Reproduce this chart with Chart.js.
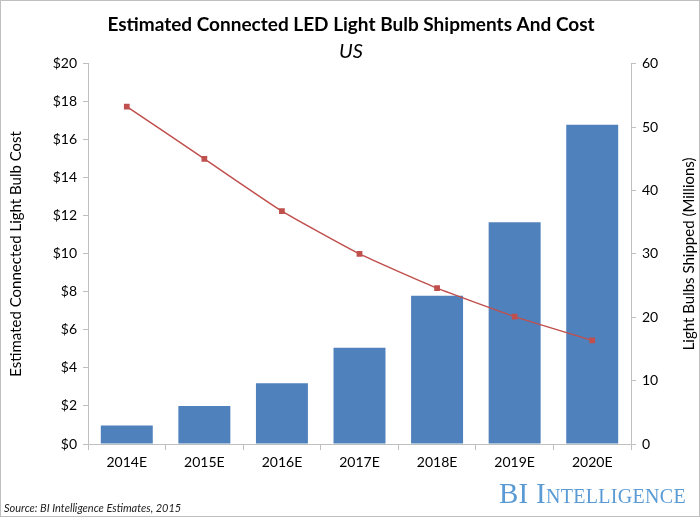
<!DOCTYPE html>
<html>
<head>
<meta charset="utf-8">
<script src="https://cdn.jsdelivr.net/npm/chart.js@4"></script>
<style>
  body { margin: 0; background: #fff; }
  .wrap { position: relative; width: 700px; height: 517px; box-sizing: border-box; border: 1px solid #bfbfbf; }
  canvas { position: absolute; left: 0; top: 0; }
  .source { position: absolute; left: 3px; top: 500px; font: italic 11px Lato, sans-serif; color: #222; }
  .logo { position: absolute; right: 13px; top: 476px; font: 29px "Liberation Serif", serif; color: #5a9bd5; font-variant: small-caps; letter-spacing: 0.3px; }
</style>
</head>
<body>
<div class="wrap">
  <canvas id="myChart" width="700" height="517"></canvas>
  <div class="source">Source: BI Intelligence Estimates, 2015</div>
  <div class="logo">BI Intelligence</div>
</div>
<script>
// data
const years = ['2014E', '2015E', '2016E', '2017E', '2018E', '2019E', '2020E'];
const shipments = [2.9, 6.0, 9.6, 15.2, 23.4, 35.0, 50.4]; // millions, right axis
const cost = [17.75, 15.0, 12.25, 10.0, 8.2, 6.7, 5.45];   // dollars, left axis

const font = 'Lato, sans-serif';
const axisGray = '#bfbfbf';
const rightTitle = 'Light Bulbs Shipped (Millions)';

// right axis title reads bottom-to-top in the original, Chart.js turns it the other way
const rightTitlePlugin = {
  id: 'rightTitle',
  afterDraw(chart) {
    const c = chart.ctx;
    const area = chart.chartArea;
    c.save();
    c.translate(688, (area.top + area.bottom) / 2);
    c.rotate(-Math.PI / 2);
    c.font = '15px ' + font;
    c.fillStyle = '#000';
    c.textAlign = 'center';
    c.textBaseline = 'middle';
    c.fillText(rightTitle, 0, 0);
    c.restore();
  }
};

const ctx = document.getElementById('myChart');

new Chart(ctx, {
  data: {
    labels: years,
    datasets: [{
      type: 'line',
      label: 'Cost',
      data: cost,
      yAxisID: 'y',
      borderColor: '#c0504d',
      backgroundColor: '#c0504d',
      borderWidth: 1.5,
      pointStyle: 'rect',
      pointRadius: 3,
      tension: 0.15,
      order: 0
    }, {
      type: 'bar',
      label: 'Shipments',
      data: shipments,
      yAxisID: 'y2',
      backgroundColor: '#4f81bd',
      categoryPercentage: 1,
      barPercentage: 0.67,
      order: 1
    }]
  },
  options: {
    responsive: false,
    animation: false,
    layout: { padding: { top: 0, left: 0, right: 0, bottom: 44 } },
    plugins: {
      legend: { display: false },
      tooltip: { enabled: false },
      title: {
        display: true,
        text: 'Estimated Connected LED Light Bulb Shipments And Cost',
        color: '#000',
        font: { family: font, size: 19, weight: 'bold' },
        padding: { top: 12, bottom: 4 }
      },
      subtitle: {
        display: true,
        text: 'US',
        color: '#000',
        font: { family: font, size: 20, style: 'italic' },
        padding: { top: 0, bottom: 0 }
      }
    },
    scales: {
      x: {
        grid: { display: true, drawOnChartArea: false, offset: true, color: axisGray, tickLength: 6 },
        border: { color: axisGray },
        ticks: { color: '#000', font: { family: font, size: 14 }, padding: 4 },
        afterFit: s => { s.height = 30; }
      },
      y: {
        position: 'left',
        min: 0, max: 20,
        ticks: { stepSize: 2, color: '#000', font: { family: font, size: 14 }, padding: 6, callback: v => '$' + v },
        grid: { drawOnChartArea: false, color: axisGray, tickLength: 5 },
        border: { color: axisGray },
        title: { display: true, text: 'Estimated Connected Light Bulb Cost', color: '#000', font: { family: font, size: 15 }, padding: { top: 6, bottom: 0 } },
        afterFit: s => { s.width = 87; }
      },
      y2: {
        position: 'right',
        min: 0, max: 60,
        ticks: { stepSize: 10, color: '#000', font: { family: font, size: 14 }, padding: 6 },
        grid: { drawOnChartArea: false, color: axisGray, tickLength: 5 },
        border: { color: axisGray },
        afterFit: s => { s.width = 70; }
      }
    }
  },
  plugins: [rightTitlePlugin]
});
</script>
</body>
</html>
